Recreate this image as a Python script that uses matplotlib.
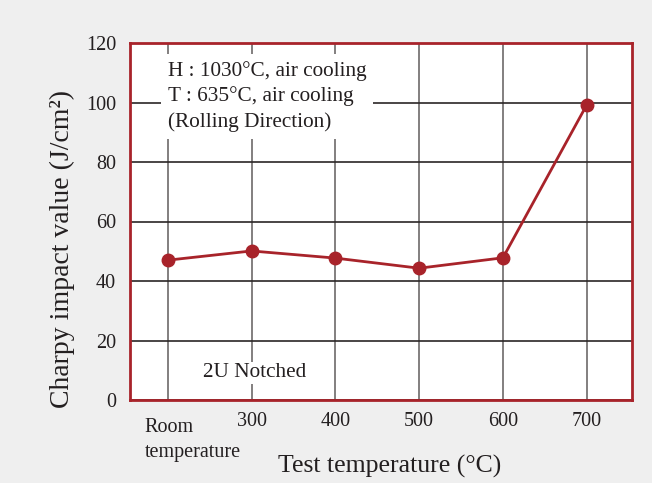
import matplotlib.pyplot as plt
import matplotlib.transforms as mtransforms

plt.rcParams['font.family'] = ['Liberation Serif', 'DejaVu Serif']

# data
categories = ['Room', '300', '400', '500', '600', '700']
impact = [47.0, 50.1, 47.7, 44.3, 47.8, 99.2]
y_ticks = [0, 20, 40, 60, 80, 100, 120]

red = '#a8232a'
ink = '#231f20'
bg = '#efefef'

fig = plt.figure(figsize=(6.52, 4.83), dpi=100, facecolor=bg)
ax = fig.add_axes([130 / 652, 1 - 400 / 483, 502 / 652, 357 / 483])
ax.set_facecolor('white')

x = list(range(len(categories)))
ax.plot(x, impact, color=red, lw=2, marker='o', ms=9, zorder=4)

ax.set_xlim(-0.45, 5.54)
ax.set_ylim(0, 120)
ax.set_xticks(x)
ax.set_xticklabels(categories, fontsize=14.5, color=ink)
ax.set_yticks(y_ticks)
ax.set_yticklabels([str(v) for v in y_ticks], fontsize=14.5, color=ink)
ax.tick_params(length=0, pad=10)
ax.tick_params(axis='x', pad=9)

# "Room" is left-aligned and sits a bit lower/left of its grid line,
# "temperature" goes on its own line below it
shift = mtransforms.ScaledTranslation(-23 / 100, -5 / 100, fig.dpi_scale_trans)
lbl = ax.get_xticklabels()[0]
lbl.set_horizontalalignment('left')
lbl.set_transform(lbl.get_transform() + shift)
second = mtransforms.blended_transform_factory(ax.transData, fig.transFigure)
ax.text(0, 1 - 452 / 483, 'temperature', fontsize=14.5, color=ink, ha='left', va='center',
        transform=second + mtransforms.ScaledTranslation(-23 / 100, 0, fig.dpi_scale_trans),
        clip_on=False)

ax.xaxis.grid(True, color='#6d6a6a', lw=1.2)
ax.yaxis.grid(True, color='#2b2626', lw=1.2)
ax.set_axisbelow(True)

for s in ax.spines.values():
    s.set_color(red)
    s.set_linewidth(2)
    s.set_zorder(5)

fig.text(62 / 652, 1 - 249 / 483, 'Charpy impact value (J/cm²)', rotation=90,
         fontsize=20, color=ink, ha='center', va='center')
fig.text(390 / 652, 1 - 466 / 483, 'Test temperature (°C)',
         fontsize=18.5, color=ink, ha='center', va='center')

ax.text(0.0, 114,
        'H : 1030°C, air cooling\nT : 635°C, air cooling\n(Rolling Direction)',
        fontsize=15.3, color=ink, va='top', ha='left', linespacing=1.38, zorder=3,
        bbox=dict(facecolor='white', edgecolor='none', pad=5))
ax.text(1.04, 9.1, '2U Notched', fontsize=15.3, color=ink, va='center', ha='center', zorder=3,
        bbox=dict(facecolor='white', edgecolor='none', pad=1))

fig.savefig('out.png', dpi=100, facecolor=bg)
